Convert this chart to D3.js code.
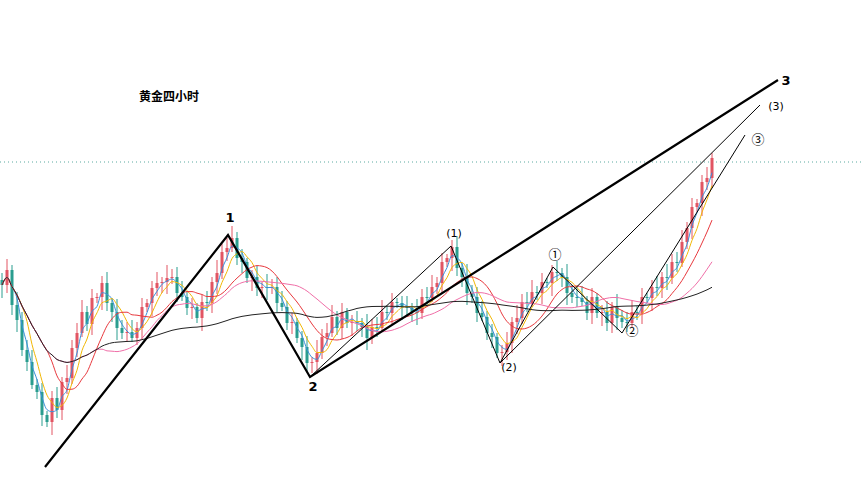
<!DOCTYPE html>
<html><head><meta charset="utf-8">
<script src="https://cdn.jsdelivr.net/npm/d3@7"></script>
<style>body{margin:0;background:#fff}</style></head>
<body><svg id="c" width="861" height="500"></svg>
<script>
const title = "黄金四小时";
const closeY = [285,270,305,320,350,362,385,392,415,422,398,410,382,378,348,333,312,324,298,297,
283,303,312,328,333,332,338,328,307,303,288,283,282,278,277,293,297,308,307,318,
302,303,282,273,252,248,238,258,262,278,277,288,287,288,287,303,307,323,322,338,
347,363,362,353,337,333,317,328,312,323,322,323,327,338,327,328,312,313,302,303,
307,308,312,313,297,298,287,283,262,258,247,268,277,293,297,313,317,333,337,353,
352,343,322,318,302,303,292,293,282,283,272,273,277,293,297,298,302,313,297,313,
312,323,307,318,322,323,312,313,297,298,287,288,277,278,262,263,242,228,207,203,182,178,158];
const closes = closeY.map(y => 2200 - y);
const wicks = [7,11,5,13,8,10,12,6,9,4];
const maPeriods = [3,5,10,20,60];
const maColors = ["#3b8fd9","#f2b705","#e8383d","#f06fa8","#222"];
const wave1 = [[8.6,1733],[45.2,1965],[61.6,1823],[155.2,2120]];
const wave2 = [[61.6,1823],[89.8,1954],[99.6,1837],[151.6,2095]];
const wave3 = [[99.6,1837],[110.2,1933],[124,1867],[148.6,2065]];
const labels = [["1",45.6,1978,"b"],["2",62.2,1809,"b"],["3",156.8,2115,"b"],
["(1)",90.4,1963,"p"],["(2)",101.4,1829,"p"],["(3)",154.8,2090,"p"],
["①",110.6,1941,"c"],["②",126,1865,"c"],["③",151.2,2056,"c"]];
const refPrice = 2038;

const svg = d3.select("#c");
const x = d3.scaleLinear().domain([0,1]).range([2,7]);
const y = d3.scaleLinear().domain([1700,2200]).range([500,0]);

svg.append("line").attr("x1",0).attr("x2",861).attr("y1",y(refPrice)).attr("y2",y(refPrice))
 .attr("stroke","#5aa9a0").attr("stroke-dasharray","1,3").attr("stroke-width",1);

const candles = closes.map((c,i)=>{const o=i?closes[i-1]:c+5;const w=wicks[i%wicks.length];
 return {i,o,c,h:Math.max(o,c)+w,l:Math.min(o,c)-wicks[(i+3)%wicks.length]};});
const g = svg.append("g");
candles.forEach(d=>{const col=d.c>=d.o?"#e25563":"#2a9d8f";
 g.append("line").attr("x1",x(d.i)).attr("x2",x(d.i)).attr("y1",y(d.h)).attr("y2",y(d.l)).attr("stroke",col).attr("stroke-width",1);
 g.append("rect").attr("x",x(d.i)-1.5).attr("width",3).attr("y",y(Math.max(d.o,d.c))).attr("height",Math.max(1,Math.abs(y(d.o)-y(d.c)))).attr("fill",col);});

const line = d3.line().x(d=>x(d[0])).y(d=>y(d[1])).curve(d3.curveMonotoneX);
maPeriods.forEach((p,k)=>{const pts=[];
 for(let i=0;i<closes.length;i++){const s=closes.slice(Math.max(0,i-p+1),i+1);pts.push([i,d3.mean(s)]);}
 svg.append("path").attr("d",line(pts)).attr("fill","none").attr("stroke",maColors[k]).attr("stroke-width",1);});

const pl = d3.line().x(d=>x(d[0])).y(d=>y(d[1]));
svg.append("path").attr("d",pl(wave1)).attr("fill","none").attr("stroke","#000").attr("stroke-width",2.2);
svg.append("path").attr("d",pl(wave2)).attr("fill","none").attr("stroke","#000").attr("stroke-width",1);
svg.append("path").attr("d",pl(wave3)).attr("fill","none").attr("stroke","#000").attr("stroke-width",1);

labels.forEach(l=>svg.append("text").attr("x",x(l[1])).attr("y",y(l[2])).attr("text-anchor","middle")
 .attr("font-family",l[3]==="c"?"Noto Sans CJK SC, sans-serif":"DejaVu Sans, sans-serif")
 .attr("font-size",l[3]==="b"?13:l[3]==="c"?13:11).attr("fill","#000")
 .attr("font-weight",l[3]==="b"?"bold":"normal").text(l[0]));
svg.append("text").attr("x",139).attr("y",101).attr("font-family","Noto Sans CJK SC, sans-serif")
 .attr("font-size",12).attr("font-weight","bold").text(title);
</script></body></html>
